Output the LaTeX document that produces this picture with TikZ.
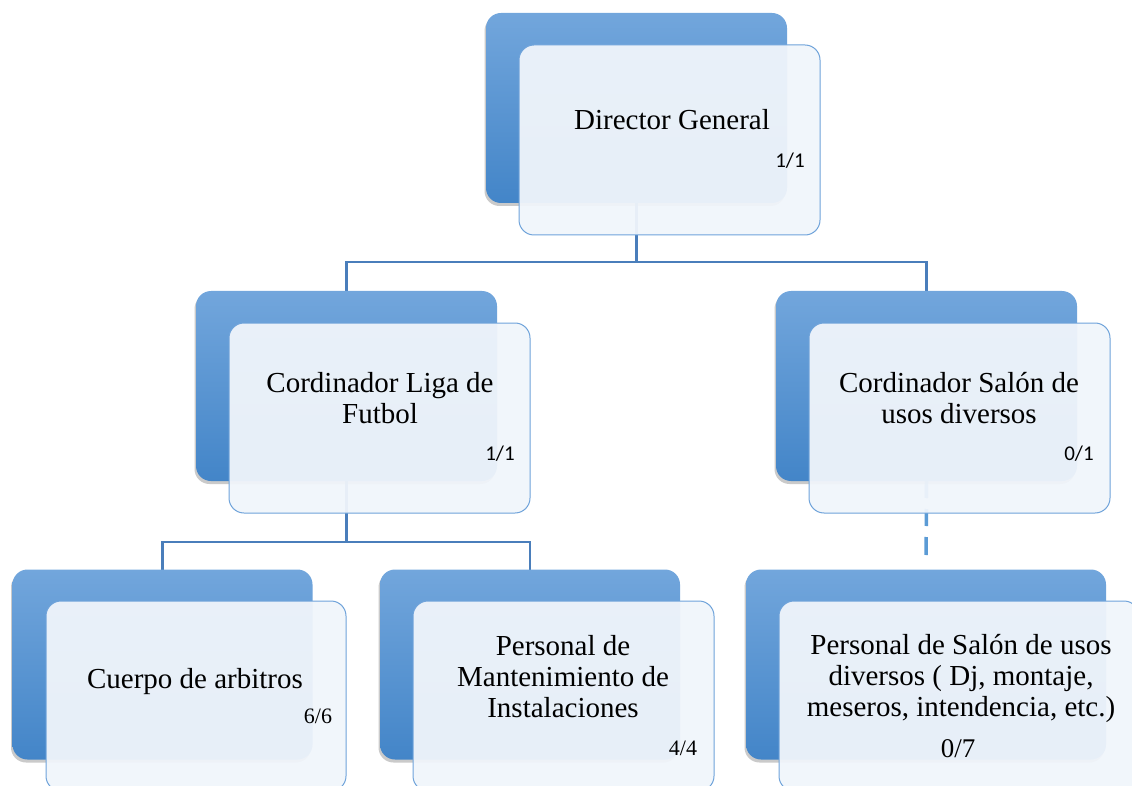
\documentclass[tikz,border=0pt]{standalone}
\usepackage{fontspec}
\setmainfont{Liberation Serif}
\newfontfamily\carl{Carlito}
\usetikzlibrary{shadows}
\definecolor{bluetop}{HTML}{72A6DC}
\definecolor{bluebot}{HTML}{4385C8}
\definecolor{frontfill}{HTML}{F0F5FB}
\definecolor{frontline}{HTML}{6FA3DA}
\definecolor{connline}{HTML}{4A7EBB}
\definecolor{dashline}{HTML}{5B9BD5}
\pgfdeclarelayer{bg}
\pgfsetlayers{bg,main}
\begin{document}
\begin{tikzpicture}[x=1pt,y=-1pt,
  backbox/.style={rectangle, rounded corners=15pt, minimum width=301pt, minimum height=190pt,
    top color=bluetop, bottom color=bluebot, draw=none, inner sep=0pt, outer sep=0pt,
    drop shadow={shadow xshift=-1.5pt, shadow yshift=-3pt, opacity=0.35, fill=black!60}},
  frontbox/.style={rectangle, rounded corners=15pt, minimum width=301pt, minimum height=190pt,
    fill=frontfill, fill opacity=0.95, draw=frontline, line width=1pt, inner sep=0pt, outer sep=0pt},
  maintext/.style={font=\fontsize{29}{31}\selectfont, align=center, anchor=base, inner sep=0pt},
  ratiosans/.style={font=\carl\fontsize{21}{23}\selectfont, anchor=base, inner sep=0pt},
  ratioserif/.style={font=\fontsize{22}{24}\selectfont, anchor=base, inner sep=0pt},
  conn/.style={draw=connline, line width=2.2pt},
  dashconn/.style={draw=dashline, line width=3.5pt, dash pattern=on 17pt off 11pt on 17pt off 11pt on 18pt off 20pt}
]
\useasboundingbox (0,0) rectangle (1132,786);

% back boxes
\node[backbox] (b1) at (636.5,108) {};
\node[backbox] (b2) at (346.5,386) {};
\node[backbox] (b3) at (926.5,386) {};
\node[backbox, minimum width=300pt] (b4) at (162.5,664.5) {};
\node[backbox, minimum width=300pt] (b5) at (530,664.5) {};
\node[backbox, minimum width=360pt] (b6) at (926,664.5) {};

% front boxes
\node[frontbox] (f1) at (669.5,140) {};
\node[frontbox] (f2) at (379.5,418) {};
\node[frontbox] (f3) at (959.5,418) {};
\node[frontbox, minimum width=300pt] (f4) at (196,696) {};
\node[frontbox] (f5) at (563.5,696) {};
\node[frontbox, minimum width=360pt] (f6) at (959,696) {};

% texts (base anchor = baseline of last line)
\node[maintext] (t1) at (672,130) {Director General};
\node[ratiosans] (r1) at (790,168) {1/1};
\node[maintext] (t2) at (380,423) {Cordinador Liga de\\Futbol};
\node[ratiosans] (r2) at (500,460) {1/1};
\node[maintext] (t3) at (959,423) {Cordinador Salón de\\usos diversos};
\node[ratiosans] (r3) at (1079,460) {0/1};
\node[maintext] (t4) at (195,688) {Cuerpo de arbitros};
\node[ratioserif] (r4) at (318,723) {6/6};
\node[maintext] (t5) at (563,717) {Personal de\\Mantenimiento de\\Instalaciones};
\node[ratioserif] (r5) at (683,755) {4/4};
\node[maintext] (t6) at (961,716) {Personal de Salón de usos\\diversos ( Dj, montaje,\\meseros, intendencia, etc.)};
\node[maintext, font=\fontsize{27}{29}\selectfont] (r6) at (958,757) {0/7};

% connectors
\coordinate (j1) at (636.5,262);
\coordinate (j2) at (346.5,542);
\begin{pgfonlayer}{bg}
\draw[conn] (b1.south) -- (j1) -| (b2.north);
\draw[conn] (j1) -| (b3.north);
\draw[conn] (b2.south) -- (j2) -| (b4.north);
\draw[conn] (j2) -| (b5.north);
\draw[dashconn] (b3.south) -- (b6.north);
\end{pgfonlayer}
\end{tikzpicture}
\end{document}
